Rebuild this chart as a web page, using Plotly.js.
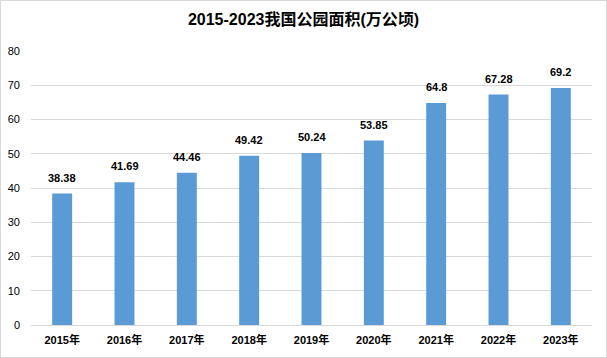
<!DOCTYPE html>
<html><head><meta charset="utf-8">
<script src="https://cdn.plot.ly/plotly-3.0.1.min.js"></script>
<style>html,body{margin:0;padding:0;background:#fff}#w{position:relative;width:607px;height:358px}#b{position:absolute;left:0;top:0;width:605px;height:356px;border:1px solid #d9d9d9;pointer-events:none}</style>
</head><body><div id="w"><div id="c"></div><div id="b"></div></div>
<script>
const years = ['2015年','2016年','2017年','2018年','2019年','2020年','2021年','2022年','2023年'];
const area = [38.38, 41.69, 44.46, 49.42, 50.24, 53.85, 64.8, 67.28, 69.2];
const labels = ['38.38','41.69','44.46','49.42','50.24','53.85','64.8','67.28','69.2'];
const titleText = '2015-2023我国公园面积(万公顷)';
const ff = '"Liberation Sans", "Noto Sans CJK SC", sans-serif';
const annotations = years.map((y, i) => ({
  x: y, y: area[i], xref: 'x', yref: 'y', text: '<b>' + labels[i] + '</b>', showarrow: false,
  yanchor: 'bottom', yshift: 8, font: {family: ff, size: 11, color: '#000'}
}));
Plotly.newPlot('c', [{
  type: 'bar', x: years, y: area,
  marker: {color: '#5B9BD5'},
  hoverinfo: 'none'
}], {
  width: 607, height: 358,
  margin: {l: 31, r: 15, t: 51, b: 33},
  paper_bgcolor: '#fff', plot_bgcolor: '#fff',
  bargap: 0.68,
  annotations: annotations,
  title: {text: '<b>' + titleText + '</b>', x: 0.5, xanchor: 'center', y: 0.945, yanchor: 'middle',
          font: {family: ff, size: 16, color: '#000'}},
  xaxis: {tickfont: {family: ff, size: 11, color: '#000', weight: 'bold'}, showline: false, ticks: '', ticklabelstandoff: 7, fixedrange: true},
  yaxis: {range: [0, 80], dtick: 10, showgrid: true, gridcolor: '#d9d9d9', zeroline: true, zerolinecolor: '#d9d9d9',
          tickfont: {family: ff, size: 11, color: '#000'}, ticks: '', ticklabelstandoff: 10, fixedrange: true},
  showlegend: false
}, {staticPlot: true});
</script></body></html>
